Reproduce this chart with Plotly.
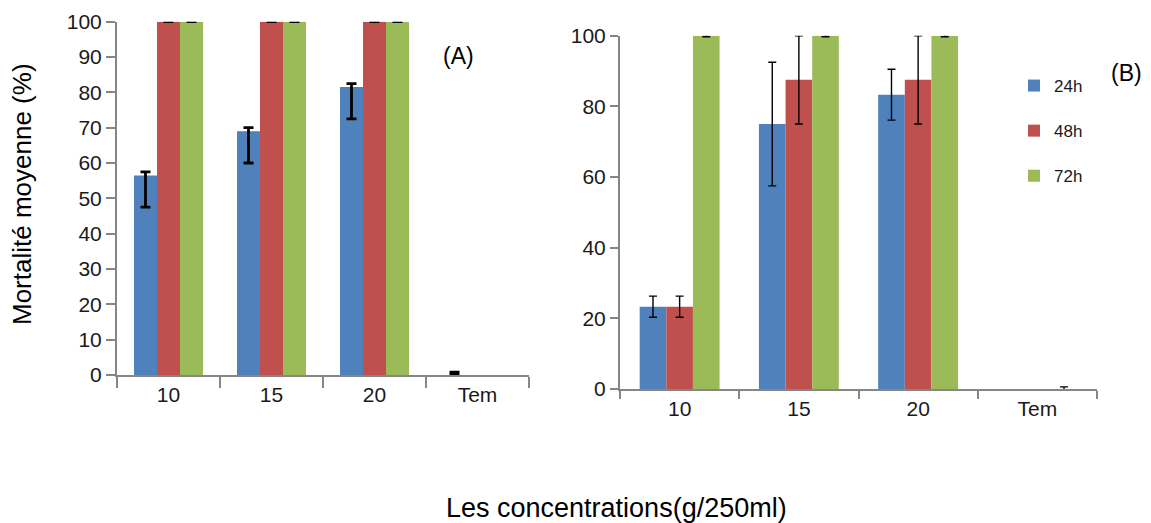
import plotly.graph_objects as go

categories = ["10", "15", "20", "Tem"]
series_names = ["24h", "48h", "72h"]
colors = ["#4F81BD", "#C0504D", "#9BBB59"]

# Panel A values and error bars (asymmetric)
# shorter error lists = no error bar drawn for the remaining categories
a_24h = [56.5, 69.0, 81.5, 0]
a_48h = [100, 100, 100, 0]
a_72h = [100, 100, 100, 0]
a_24h_err_plus = [1.0, 1.0, 1.0, 0.8]
a_24h_err_minus = [9.0, 9.0, 9.0, 0]
a_48h_err = [0, 0, 0]
a_72h_err = [0, 0, 0]

# Panel B values and error bars
b_24h = [23.3, 75.0, 83.3, 0]
b_48h = [23.3, 87.5, 87.5, 0]
b_72h = [100, 100, 100, 0]
b_24h_err = [3.0, 17.5, 7.2]
b_48h_err = [3.0, 12.5, 12.5]
b_72h_err = [0.3, 0.3, 0.3, 0.6]

FONT = "Liberation Sans, Arial, sans-serif"
TXT = "#1a1a1a"
AX = "#868686"
W, H = 1151, 523

fig = go.Figure()

a_vals = [a_24h, a_48h, a_72h]
a_plus = [a_24h_err_plus, a_48h_err, a_72h_err]
a_minus = [a_24h_err_minus, a_48h_err, a_72h_err]
for i in range(3):
    fig.add_trace(go.Bar(
        x=categories, y=a_vals[i], name=series_names[i],
        marker=dict(color=colors[i], line=dict(width=0)),
        error_y=dict(type="data", symmetric=False, array=a_plus[i], arrayminus=a_minus[i],
                     color="black", thickness=2.8, width=5),
        xaxis="x", yaxis="y", showlegend=False, cliponaxis=False,
    ))

b_vals = [b_24h, b_48h, b_72h]
b_errs = [b_24h_err, b_48h_err, b_72h_err]
for i in range(3):
    fig.add_trace(go.Bar(
        x=categories, y=b_vals[i], name=series_names[i],
        marker=dict(color=colors[i], line=dict(width=0)),
        error_y=dict(type="data", array=b_errs[i], color="black", thickness=1.4, width=4),
        xaxis="x2", yaxis="y2", showlegend=True, legendgroup=series_names[i],
        cliponaxis=False,
    ))

common_x = dict(type="category", showline=True, linecolor=AX, linewidth=2,
                ticks="outside", tickson="boundaries", tickcolor=AX, tickwidth=2,
                showgrid=False, zeroline=False, range=[-0.5, 3.5], automargin=False,
                tickfont=dict(family=FONT, size=21, color=TXT))
common_y = dict(range=[0, 100], showline=True, linecolor=AX, linewidth=2,
                ticks="outside", tickcolor=AX, tickwidth=2,
                showgrid=False, zeroline=False, automargin=False,
                tickfont=dict(family=FONT, size=21, color=TXT))

fig.update_layout(
    width=W, height=H,
    margin=dict(l=0, r=0, t=0, b=0, autoexpand=False),
    paper_bgcolor="white", plot_bgcolor="white",
    barmode="group", bargap=0.33, bargroupgap=0,
    font=dict(family=FONT, color=TXT),
    xaxis=dict(domain=[117 / W, 529 / W], anchor="y", ticklen=11, **common_x),
    yaxis=dict(domain=[1 - 375 / H, 1 - 21.7 / H], anchor="x", dtick=10, ticklen=9, **common_y),
    xaxis2=dict(domain=[620 / W, 1097 / W], anchor="y2", ticklen=8, **common_x),
    yaxis2=dict(domain=[1 - 389 / H, 1 - 35.7 / H], anchor="x2", dtick=20, ticklen=8, **common_y),
    legend=dict(x=1014 / W, y=1 - 68 / H, xanchor="left", yanchor="top",
                font=dict(family=FONT, size=17, color=TXT),
                tracegroupgap=20, bgcolor="rgba(0,0,0,0)", itemwidth=30),
    annotations=[
        dict(text="Mortalité moyenne (%)", textangle=-90, x=22 / W, y=1 - 194 / H,
             xref="paper", yref="paper", showarrow=False, xanchor="center", yanchor="middle",
             font=dict(family=FONT, size=26, color="black")),
        dict(text="(A)", x=458 / W, y=1 - 56 / H, xref="paper", yref="paper", showarrow=False,
             xanchor="center", yanchor="middle",
             font=dict(family=FONT, size=23, color="black")),
        dict(text="Les concentrations(g/250ml)", x=616 / W, y=1 - 508 / H,
             xref="paper", yref="paper", showarrow=False, xanchor="center", yanchor="middle",
             font=dict(family=FONT, size=27, color="black")),
        dict(text="(B)", x=1126 / W, y=1 - 73 / H, xref="paper", yref="paper",
             showarrow=False, xanchor="center", yanchor="middle",
             font=dict(family=FONT, size=23, color="black")),
    ],
)

fig.write_html("out.html", config={"displayModeBar": False},
               post_script="document.body.style.margin='0';document.body.style.overflow='hidden';")
